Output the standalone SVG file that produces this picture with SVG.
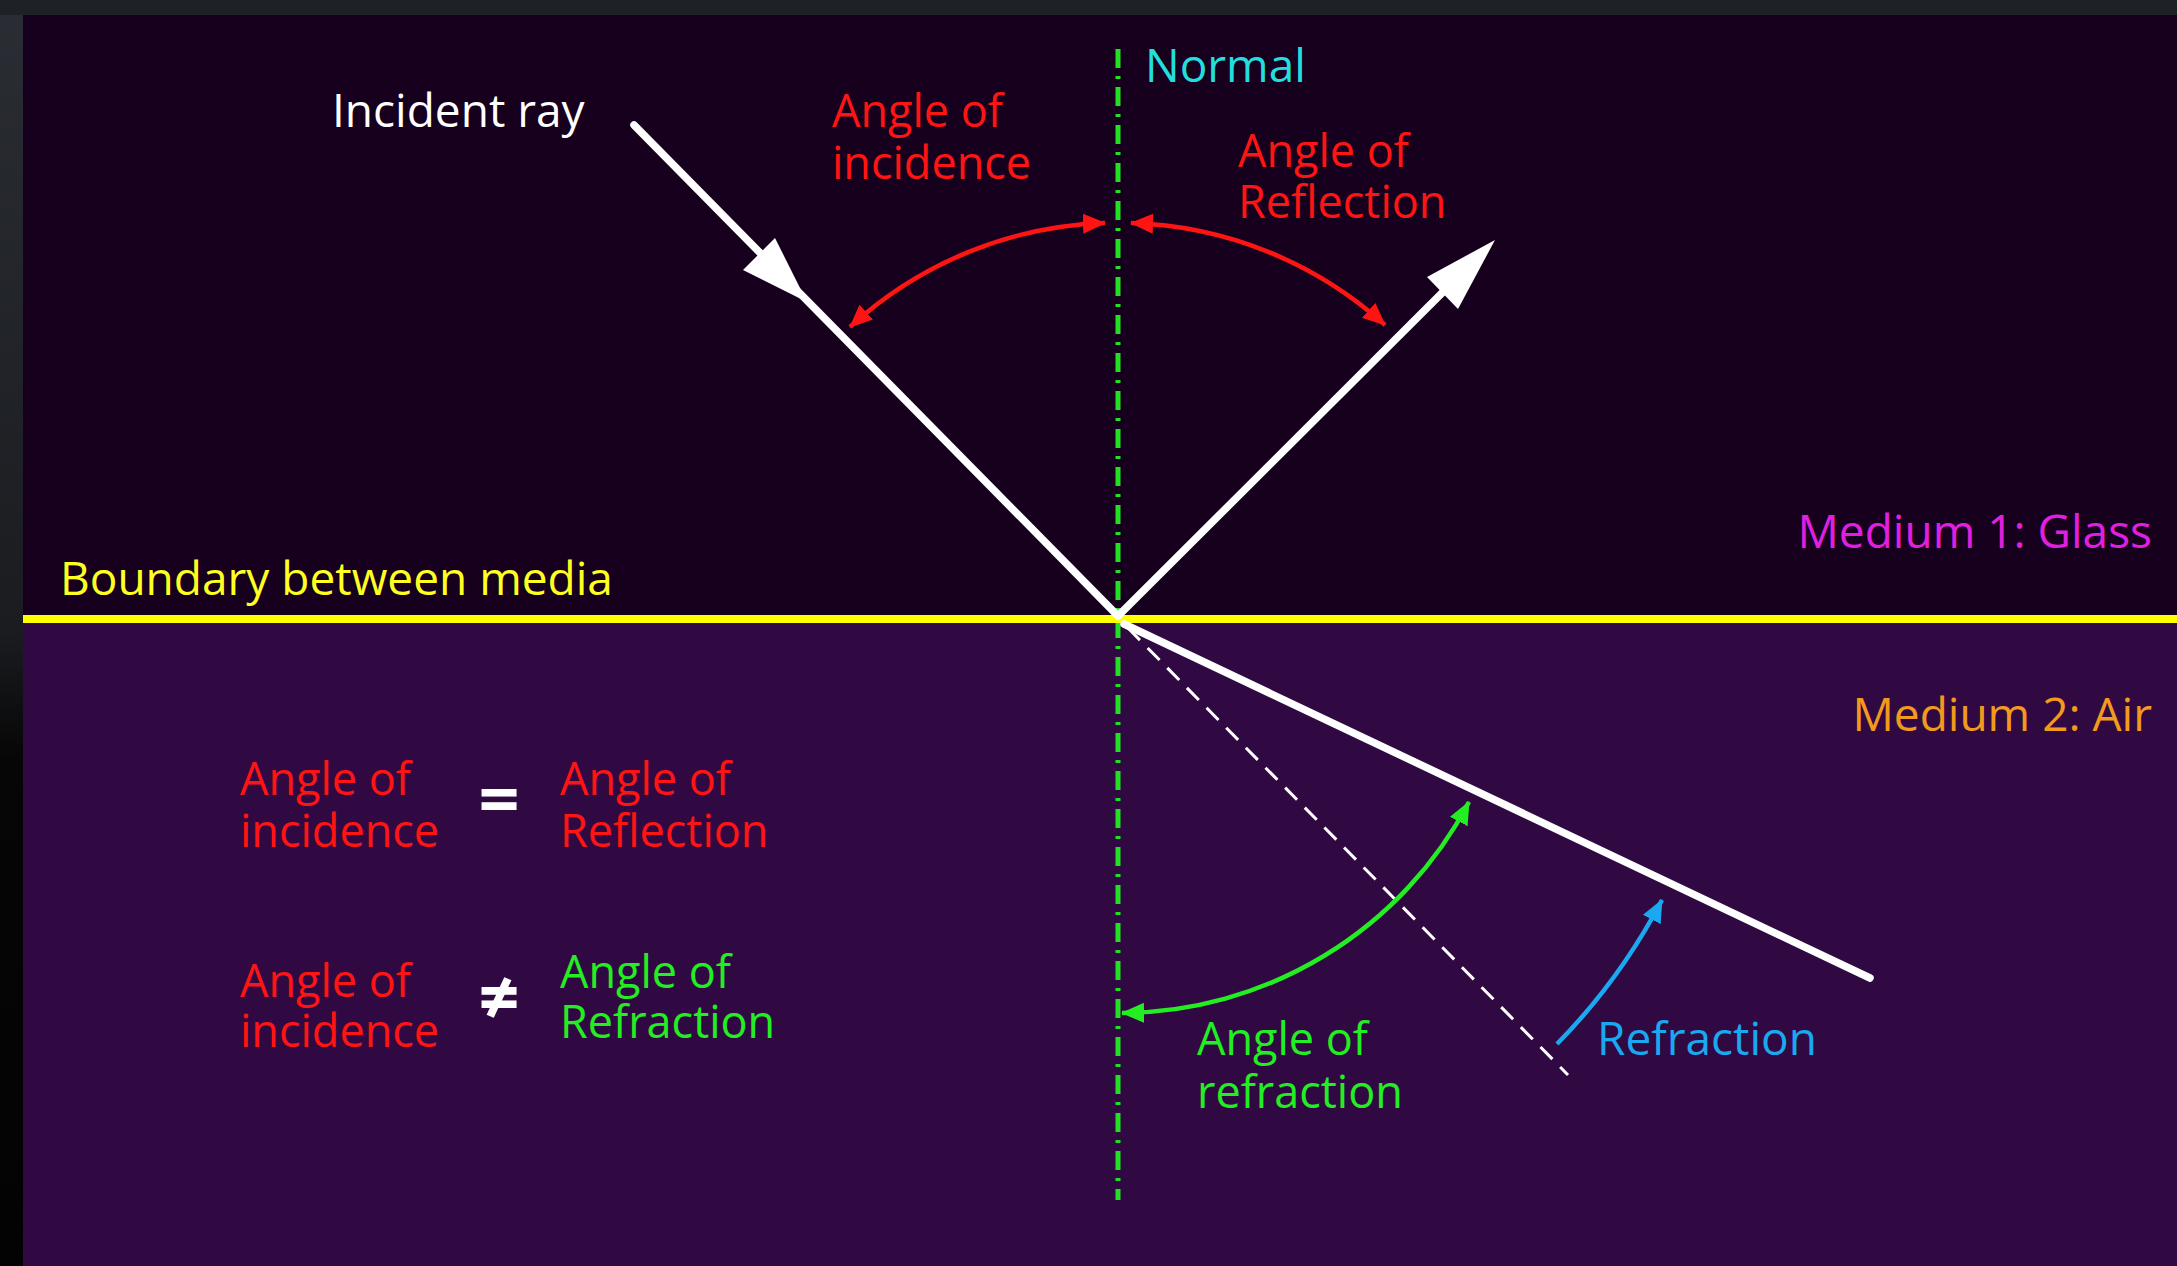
<svg xmlns="http://www.w3.org/2000/svg" width="2177" height="1266" viewBox="0 0 2177 1266">
<style>
text{font-family:"Open Sans","Noto Sans","Liberation Sans",sans-serif;font-size:46px}
.two{font-size:45px}
.red{fill:#ff1414}
.grn{fill:#22ee22}
.ray{stroke:#ffffff;stroke-width:7.5;fill:none;stroke-linecap:round}
.arc{fill:none;stroke-width:4.5}
.op{fill:#ffffff;font-weight:bold;font-size:72px}
</style>
<defs>
<linearGradient id="frame" x1="0" y1="0" x2="0" y2="1">
<stop offset="0" stop-color="#2a2d33"/>
<stop offset="0.5" stop-color="#1a1c20"/>
<stop offset="0.6" stop-color="#060606"/>
<stop offset="1" stop-color="#030303"/>
</linearGradient>
<marker id="ahR" markerUnits="userSpaceOnUse" markerWidth="24" markerHeight="22" refX="22" refY="10" orient="auto-start-reverse"><path d="M0,0 L23,10 L0,20 z" fill="#ff1414"/></marker>
<marker id="ahG" markerUnits="userSpaceOnUse" markerWidth="24" markerHeight="22" refX="22" refY="10" orient="auto-start-reverse"><path d="M0,0 L23,10 L0,20 z" fill="#22ee22"/></marker>
<marker id="ahB" markerUnits="userSpaceOnUse" markerWidth="24" markerHeight="22" refX="22" refY="10" orient="auto-start-reverse"><path d="M0,0 L23,10 L0,20 z" fill="#1aa8f0"/></marker>
</defs>
<g id="background">
<rect x="0" y="0" width="2177" height="1266" fill="url(#frame)"/>
<rect x="0" y="0" width="2177" height="15" fill="#1e2126"/>
<rect x="23" y="15" width="2154" height="604" fill="#16001d"/>
<rect x="23" y="619" width="2154" height="647" fill="#300942"/>
</g>
<g id="normal-line">
<line x1="1118" y1="49" x2="1118" y2="1200" stroke="#22e022" stroke-width="5" stroke-dasharray="19 8 3 8"/>
</g>
<g id="boundary">
<line x1="23" y1="619" x2="2177" y2="619" stroke="#ffff00" stroke-width="8"/>
</g>
<g id="connectors">
<path id="incident-ray" class="ray" d="M634,125 L1118,616"/>
<polygon points="807,302 775,238 743,270" fill="#ffffff"/>
<path id="reflected-ray" class="ray" d="M1118,616 L1448,287" stroke-linecap="butt"/>
<polygon points="1495,240 1427,277 1458,309" fill="#ffffff"/>
<path id="refracted-ray" class="ray" d="M1124,624 L1870,978"/>
<path id="extension" d="M1128,628 L1568,1075" stroke="#ffffff" stroke-width="3" stroke-dasharray="17 11" fill="none"/>
<path id="arc-incidence" class="arc" stroke="#ff1414" d="M850,327 A396,396 0 0 1 1105,223" marker-start="url(#ahR)" marker-end="url(#ahR)"/>
<path id="arc-reflection" class="arc" stroke="#ff1414" d="M1131,223 A396,396 0 0 1 1385,325" marker-start="url(#ahR)" marker-end="url(#ahR)"/>
<path id="arc-refraction" class="arc" stroke="#22ee22" d="M1122,1013 A395,395 0 0 0 1469,802" marker-start="url(#ahG)" marker-end="url(#ahG)"/>
<path id="arc-bend" class="arc" stroke="#1aa8f0" d="M1557,1044 A612,612 0 0 0 1662,900" marker-end="url(#ahB)"/>
</g>
<g id="label-incident-ray"><text x="332" y="127" fill="#ffffff">Incident ray</text></g>
<g id="label-normal"><text x="1145" y="82" fill="#22dede">Normal</text></g>
<g id="label-angle-incidence"><text class="red two"><tspan x="832" y="127">Angle of</tspan><tspan x="832" y="179">incidence</tspan></text></g>
<g id="label-angle-reflection"><text class="red two"><tspan x="1238" y="167">Angle of</tspan><tspan x="1238" y="218">Reflection</tspan></text></g>
<g id="label-medium1"><text x="2152" y="548" text-anchor="end" fill="#e020e0">Medium 1: Glass</text></g>
<g id="label-boundary"><text x="60" y="595" fill="#ffff22">Boundary between media</text></g>
<g id="label-medium2"><text x="2152" y="731" text-anchor="end" fill="#f29a1e">Medium 2: Air</text></g>
<g id="eq-reflection">
<text class="red two"><tspan x="240" y="795">Angle of</tspan><tspan x="240" y="847">incidence</tspan></text>
<text class="op" x="499" y="825" text-anchor="middle">=</text>
<text class="red two"><tspan x="560" y="795">Angle of</tspan><tspan x="560" y="847">Reflection</tspan></text>
</g>
<g id="eq-refraction">
<text class="red two"><tspan x="240" y="997">Angle of</tspan><tspan x="240" y="1047">incidence</tspan></text>
<text class="op" x="499" y="1023" text-anchor="middle">≠</text>
<text class="grn two"><tspan x="560" y="988">Angle of</tspan><tspan x="560" y="1038">Refraction</tspan></text>
</g>
<g id="label-angle-refraction"><text class="grn two"><tspan x="1197" y="1055">Angle of</tspan><tspan x="1197" y="1108">refraction</tspan></text></g>
<g id="label-refraction"><text x="1597" y="1055" fill="#1aa8f0">Refraction</text></g>
</svg>
